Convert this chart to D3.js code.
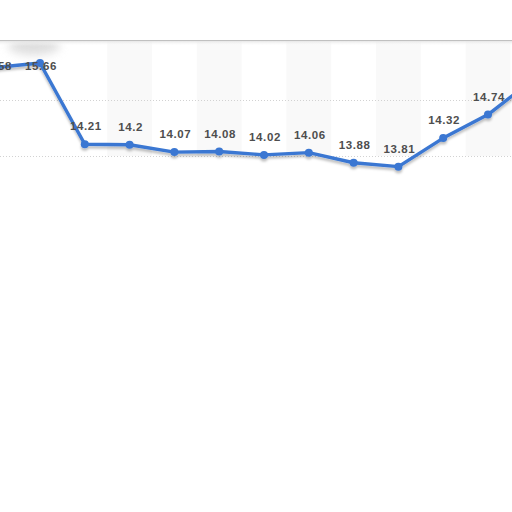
<!DOCTYPE html>
<html>
<head>
<meta charset="utf-8">
<script src="https://cdn.jsdelivr.net/npm/d3@7"></script>
<style>
  html, body { margin: 0; padding: 0; background: #fff; }
  svg { display: block; }
</style>
</head>
<body>
<svg width="512" height="512"></svg>
<script>
// data (first and last points sit partly off the crop)
var categories = ['p0', 'p1', 'p2', 'p3', 'p4', 'p5', 'p6', 'p7', 'p8', 'p9', 'p10', 'p11', 'p12'];
var values = [15.58, 15.66, 14.21, 14.2, 14.07, 14.08, 14.02, 14.06, 13.88, 13.81, 14.32, 14.74, 15.36];
var gridValues = [14, 15];

var plotTop = 40,
  plotBottom = 156,
  lineColor = '#3a77d2';

var svg = d3.select('svg');

var x = d3.scalePoint()
  .domain(categories)
  .range([-4.8, 532.8]);

var y = d3.scaleLinear()
  .domain([14, 15])
  .range([156, 100]);

var step = x.step();

var defs = svg.append('defs');

var shadow = defs.append('filter')
  .attr('id', 'lineShadow')
  .attr('x', '-10%').attr('y', '-50%')
  .attr('width', '120%').attr('height', '200%');
shadow.append('feDropShadow')
  .attr('dx', 0).attr('dy', 2.5)
  .attr('stdDeviation', 1.2)
  .attr('flood-color', '#000')
  .attr('flood-opacity', 0.25);

var blur = defs.append('filter')
  .attr('id', 'blob')
  .attr('x', '-50%').attr('y', '-50%')
  .attr('width', '200%').attr('height', '200%');
blur.append('feGaussianBlur').attr('stdDeviation', 5);

var topGrad = defs.append('linearGradient')
  .attr('id', 'topShade')
  .attr('x1', 0).attr('y1', 0).attr('x2', 0).attr('y2', 1);
topGrad.append('stop').attr('offset', '0%').attr('stop-color', '#dcdcdc');
topGrad.append('stop').attr('offset', '100%').attr('stop-color', '#fff').attr('stop-opacity', 0);

// alternating column bands
svg.append('g')
  .selectAll('rect')
  .data(categories.filter(function(c, i) { return i % 2 === 1 && i > 1; }))
  .enter()
  .append('rect')
  .attr('x', function(d) { return x(d) - step / 2; })
  .attr('y', plotTop)
  .attr('width', step)
  .attr('height', plotBottom - plotTop)
  .attr('fill', '#f9f9f9');

// soft shade in the top left corner
svg.append('ellipse')
  .attr('cx', 34).attr('cy', plotTop + 6)
  .attr('rx', 26).attr('ry', 9)
  .attr('fill', '#d6d6d6')
  .attr('opacity', 0.8)
  .attr('filter', 'url(#blob)');

svg.append('rect')
  .attr('x', -10).attr('y', 0)
  .attr('width', 532).attr('height', plotTop)
  .attr('fill', '#fff');

// top border with soft shade
svg.append('rect')
  .attr('x', 0).attr('y', plotTop)
  .attr('width', 512).attr('height', 6)
  .attr('fill', 'url(#topShade)');

svg.append('line')
  .attr('x1', 0).attr('x2', 512)
  .attr('y1', plotTop + 0.5).attr('y2', plotTop + 0.5)
  .attr('stroke', '#c0c0c0')
  .attr('stroke-width', 1);

// dotted gridlines
svg.append('g')
  .selectAll('line')
  .data(gridValues)
  .enter()
  .append('line')
  .attr('x1', 0).attr('x2', 512)
  .attr('y1', function(d) { return Math.round(y(d)) + 0.5; })
  .attr('y2', function(d) { return Math.round(y(d)) + 0.5; })
  .attr('stroke', '#d2d2d2')
  .attr('stroke-dasharray', '1,2');

var line = d3.line()
  .x(function(d, i) { return x(categories[i]); })
  .y(function(d) { return y(d); });

var series = svg.append('g').attr('filter', 'url(#lineShadow)');

series.append('path')
  .datum(values)
  .attr('d', line)
  .attr('fill', 'none')
  .attr('stroke', lineColor)
  .attr('stroke-width', 3.4)
  .attr('stroke-linejoin', 'round');

series.selectAll('circle')
  .data(values)
  .enter()
  .append('circle')
  .attr('cx', function(d, i) { return x(categories[i]); })
  .attr('cy', function(d) { return y(d); })
  .attr('r', 4)
  .attr('fill', lineColor);

// value labels
svg.append('g')
  .selectAll('text')
  .data(values)
  .enter()
  .append('text')
  .attr('x', function(d, i) { return x(categories[i]) + 1; })
  .attr('y', function(d) { return Math.max(y(d) - 14, 70); })
  .attr('text-anchor', 'middle')
  .style('font-family', '"Liberation Sans", Arial, sans-serif')
  .style('font-size', '11.5px')
  .style('font-weight', 'bold')
  .style('letter-spacing', '0.6px')
  .attr('fill', '#4e4e4e')
  .text(function(d) { return d; });
</script>
</body>
</html>
